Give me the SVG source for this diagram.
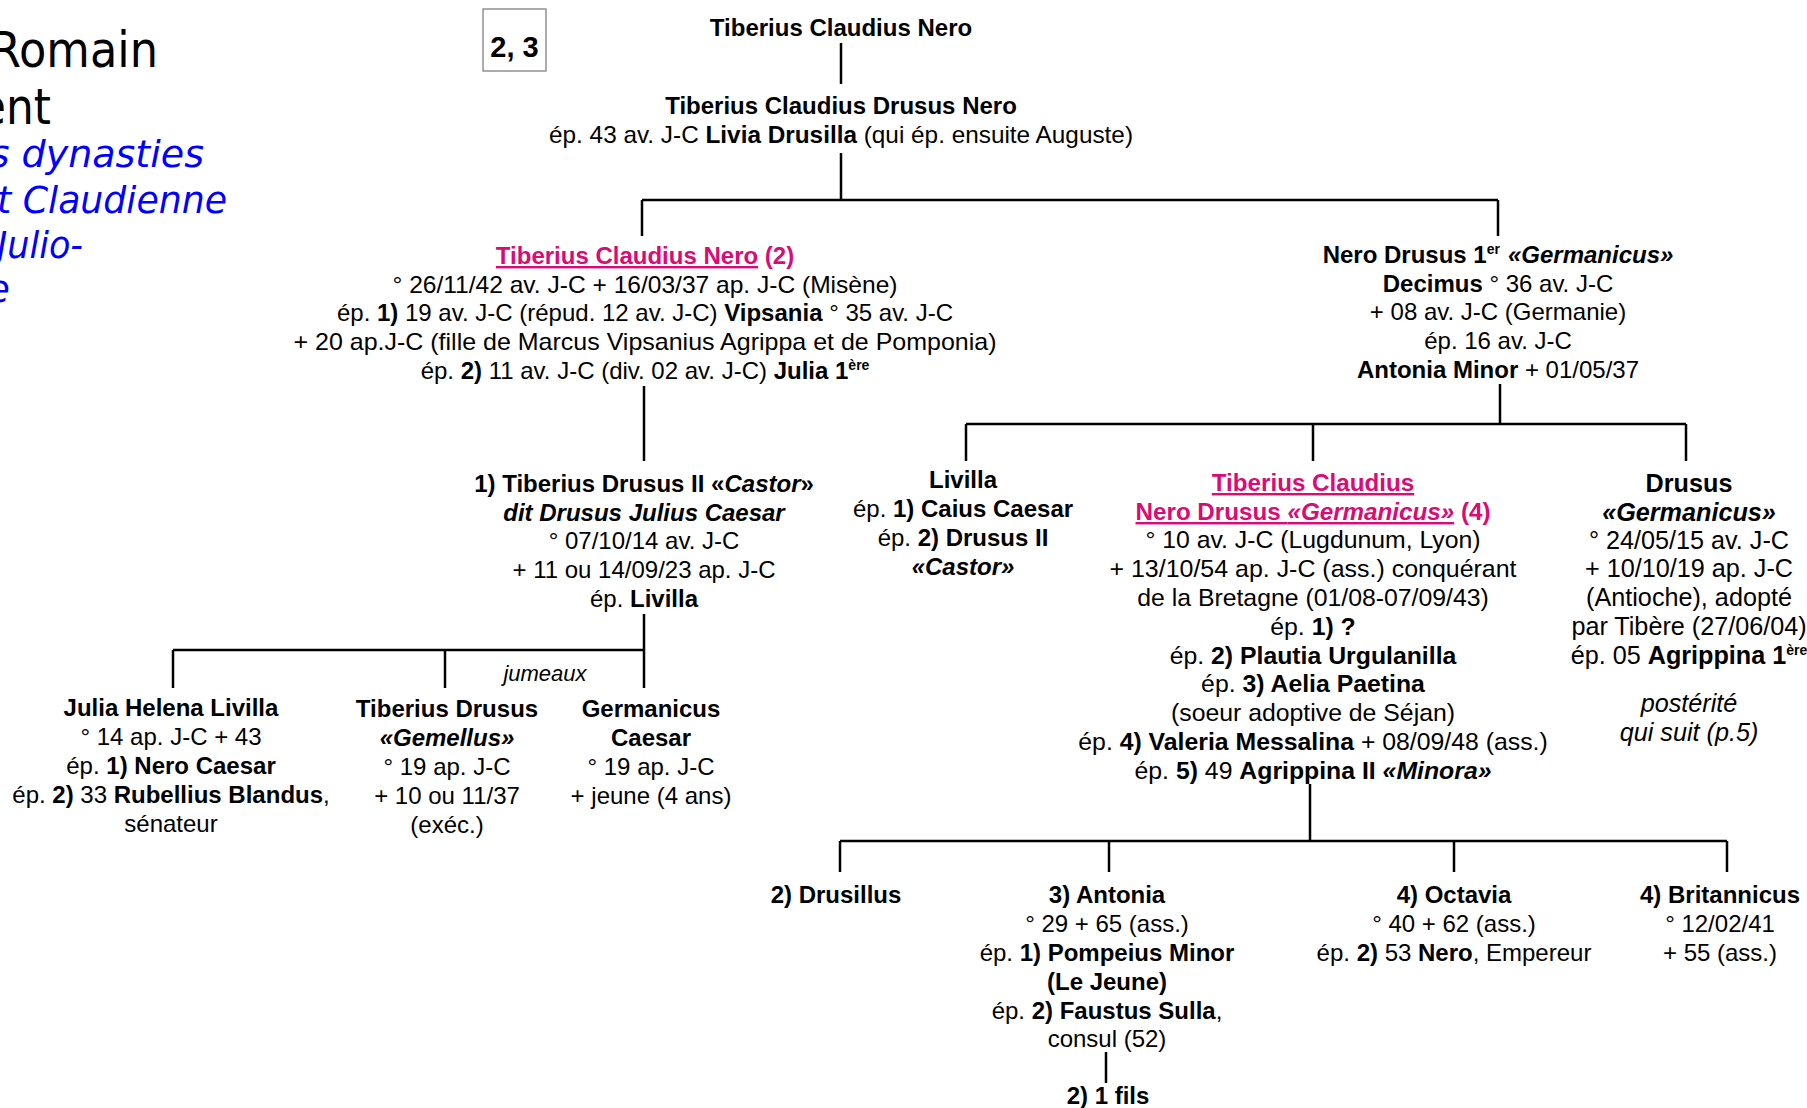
<svg xmlns="http://www.w3.org/2000/svg" width="1807" height="1108" viewBox="0 0 1807 1108">
<style>
text { font-family: "Liberation Sans", Arial, sans-serif; font-size: 24px; fill: #000; }
.c { text-anchor: middle; }
.b { font-weight: bold; }
.i { font-style: italic; }
.p { fill: #DB0A76; }
.u { text-decoration: underline; }
.sup { font-size: 14px; }
.tb { font-family: "DejaVu Sans", Verdana, sans-serif; font-size: 50px; text-anchor: end; }
.tc { font-family: "DejaVu Sans", Verdana, sans-serif; font-size: 38px; font-style: italic; fill: #0000FF; text-anchor: end; }
.conn { stroke: #000; stroke-width: 2.5; fill: none; }
#claudius-4 text { font-size: 24.8px; }
#claudius-4 text.p { font-size: 24.2px; }
#drusus-germanicus text { font-size: 25.2px; }
#claudius-4 .sup, #drusus-germanicus .sup { font-size: 14px; }
</style>
<rect width="1807" height="1108" fill="#fff"/>

<g id="title">
  <text class="tb" x="158" y="67" textLength="168" lengthAdjust="spacingAndGlyphs">Romain</text>
  <text class="tb" x="51" y="124" textLength="72" lengthAdjust="spacingAndGlyphs">ent</text>
  <text class="tc" x="204" y="167">s dynasties</text>
  <text class="tc" x="227" y="213" textLength="230" lengthAdjust="spacingAndGlyphs">t Claudienne</text>
  <text class="tc" x="83" y="258" textLength="86" lengthAdjust="spacingAndGlyphs">Julio-</text>
  <text class="tc" x="10" y="302">e</text>
</g>

<g id="ref-box">
  <rect x="483" y="9" width="63" height="62" fill="none" stroke="#808080" stroke-width="1.3"/>
  <text class="c b" x="514.5" y="57" style="font-size:29px">2, 3</text>
</g>

<g id="connectors">
  <path class="conn" d="M841 43V84"/>
  <path class="conn" d="M841 153V200M642 200H1498M642 200V236M1498 200V236"/>
  <path class="conn" d="M644 386V461"/>
  <path class="conn" d="M644 614V688M173 650H644M173 650V688M445 650V688"/>
  <path class="conn" d="M1500 384V424M966 424H1686M966 424V461M1313 424V461M1686 424V461"/>
  <path class="conn" d="M1310 784V841M840 841H1727M840 841V872M1109 841V872M1454 841V872M1727 841V872"/>
  <path class="conn" d="M1106 1052V1083"/>
</g>

<g id="tiberius-claudius-nero-sr">
  <text class="c b" x="841" y="36">Tiberius Claudius Nero</text>
</g>

<g id="tiberius-claudius-drusus-nero">
  <text class="c b" x="841" y="114">Tiberius Claudius Drusus Nero</text>
  <text class="c" x="841" y="143" textLength="584" lengthAdjust="spacingAndGlyphs">ép. 43 av. J-C <tspan class="b">Livia Drusilla</tspan> (qui ép. ensuite Auguste)</text>
</g>

<g id="tiberius-2">
  <text class="c b p" x="645" y="264"><tspan class="u">Tiberius Claudius Nero</tspan> (2)</text>
  <text class="c" x="645" y="293" textLength="505" lengthAdjust="spacingAndGlyphs">° 26/11/42 av. J-C + 16/03/37 ap. J-C (Misène)</text>
  <text class="c" x="645" y="321">ép. <tspan class="b">1)</tspan> 19 av. J-C (répud. 12 av. J-C) <tspan class="b">Vipsania</tspan> ° 35 av. J-C</text>
  <text class="c" x="645" y="350" textLength="703" lengthAdjust="spacingAndGlyphs">+ 20 ap.J-C (fille de Marcus Vipsanius Agrippa et de Pomponia)</text>
  <text class="c" x="645" y="379">ép. <tspan class="b">2)</tspan> 11 av. J-C (div. 02 av. J-C) <tspan class="b">Julia 1<tspan class="sup" dy="-9">ère</tspan></tspan></text>
</g>

<g id="nero-drusus-1">
  <text class="c b" x="1498" y="263">Nero Drusus 1<tspan class="sup" dy="-9">er</tspan><tspan class="i" dx="8" dy="9">«Germanicus»</tspan></text>
  <text class="c" x="1498" y="292"><tspan class="b">Decimus</tspan> ° 36 av. J-C</text>
  <text class="c" x="1498" y="320">+ 08 av. J-C (Germanie)</text>
  <text class="c" x="1498" y="349">ép. 16 av. J-C</text>
  <text class="c" x="1498" y="378"><tspan class="b">Antonia Minor</tspan> + 01/05/37</text>
</g>

<g id="drusus-castor">
  <text class="c b" x="644" y="492">1) Tiberius Drusus II «<tspan class="i">Castor</tspan>»</text>
  <text class="c b i" x="644" y="521">dit Drusus Julius Caesar</text>
  <text class="c" x="644" y="549">° 07/10/14 av. J-C</text>
  <text class="c" x="644" y="578">+ 11 ou 14/09/23 ap. J-C</text>
  <text class="c" x="644" y="607">ép. <tspan class="b">Livilla</tspan></text>
</g>

<g id="jumeaux-label">
  <text class="c i" x="545" y="681" style="font-size:22px">jumeaux</text>
</g>

<g id="julia-helena-livilla">
  <text class="c b" x="171" y="716">Julia Helena Livilla</text>
  <text class="c" x="171" y="745">° 14 ap. J-C + 43</text>
  <text class="c" x="171" y="774">ép. <tspan class="b">1) Nero Caesar</tspan></text>
  <text class="c" x="171" y="803">ép. <tspan class="b">2)</tspan> 33 <tspan class="b">Rubellius Blandus</tspan>,</text>
  <text class="c" x="171" y="832">sénateur</text>
</g>

<g id="tiberius-gemellus">
  <text class="c b" x="447" y="717">Tiberius Drusus</text>
  <text class="c b i" x="447" y="746">«Gemellus»</text>
  <text class="c" x="447" y="775">° 19 ap. J-C</text>
  <text class="c" x="447" y="804">+ 10 ou 11/37</text>
  <text class="c" x="447" y="833">(exéc.)</text>
</g>

<g id="germanicus-caesar">
  <text class="c b" x="651" y="717">Germanicus</text>
  <text class="c b" x="651" y="746">Caesar</text>
  <text class="c" x="651" y="775">° 19 ap. J-C</text>
  <text class="c" x="651" y="804">+ jeune (4 ans)</text>
</g>

<g id="livilla">
  <text class="c b" x="963" y="488">Livilla</text>
  <text class="c" x="963" y="517">ép. <tspan class="b">1) Caius Caesar</tspan></text>
  <text class="c" x="963" y="546">ép. <tspan class="b">2) Drusus II</tspan></text>
  <text class="c b i" x="963" y="575">«Castor»</text>
</g>

<g id="claudius-4">
  <text class="c b p" x="1313" y="491"><tspan class="u">Tiberius Claudius</tspan></text>
  <text class="c b p" x="1313" y="520"><tspan class="u">Nero Drusus <tspan class="i">«Germanicus»</tspan></tspan> (4)</text>
  <text class="c" x="1313" y="548">° 10 av. J-C (Lugdunum, Lyon)</text>
  <text class="c" x="1313" y="577" textLength="407" lengthAdjust="spacingAndGlyphs">+ 13/10/54 ap. J-C (ass.) conquérant</text>
  <text class="c" x="1313" y="606">de la Bretagne (01/08-07/09/43)</text>
  <text class="c" x="1313" y="635">ép. <tspan class="b">1) ?</tspan></text>
  <text class="c" x="1313" y="664">ép. <tspan class="b">2) Plautia Urgulanilla</tspan></text>
  <text class="c" x="1313" y="692">ép. <tspan class="b">3) Aelia Paetina</tspan></text>
  <text class="c" x="1313" y="721">(soeur adoptive de Séjan)</text>
  <text class="c" x="1313" y="750">ép. <tspan class="b">4) Valeria Messalina</tspan> + 08/09/48 (ass.)</text>
  <text class="c" x="1313" y="779">ép. <tspan class="b">5)</tspan> 49 <tspan class="b">Agrippina II <tspan class="i">«Minora»</tspan></tspan></text>
</g>

<g id="drusus-germanicus">
  <text class="c b" x="1689" y="492">Drusus</text>
  <text class="c b i" x="1689" y="521">«Germanicus»</text>
  <text class="c" x="1689" y="549">° 24/05/15 av. J-C</text>
  <text class="c" x="1689" y="577">+ 10/10/19 ap. J-C</text>
  <text class="c" x="1689" y="606">(Antioche), adopté</text>
  <text class="c" x="1689" y="635">par Tibère (27/06/04)</text>
  <text class="c" x="1689" y="664">ép. 05 <tspan class="b">Agrippina 1<tspan class="sup" dy="-9">ère</tspan></tspan></text>
  <text class="c i" x="1689" y="712">postérité</text>
  <text class="c i" x="1689" y="741">qui suit (p.5)</text>
</g>

<g id="drusillus">
  <text class="c b" x="836" y="903">2) Drusillus</text>
</g>

<g id="antonia">
  <text class="c b" x="1107" y="903">3) Antonia</text>
  <text class="c" x="1107" y="932">° 29 + 65 (ass.)</text>
  <text class="c" x="1107" y="961">ép. <tspan class="b">1) Pompeius Minor</tspan></text>
  <text class="c b" x="1107" y="990">(Le Jeune)</text>
  <text class="c" x="1107" y="1019">ép. <tspan class="b">2) Faustus Sulla</tspan>,</text>
  <text class="c" x="1107" y="1047">consul  (52)</text>
</g>

<g id="un-fils">
  <text class="c b" x="1108" y="1104">2) 1 fils</text>
</g>

<g id="octavia">
  <text class="c b" x="1454" y="903">4) Octavia</text>
  <text class="c" x="1454" y="932">° 40 + 62 (ass.)</text>
  <text class="c" x="1454" y="961">ép. <tspan class="b">2)</tspan> 53 <tspan class="b">Nero</tspan>, Empereur</text>
</g>

<g id="britannicus">
  <text class="c b" x="1720" y="903">4) Britannicus</text>
  <text class="c" x="1720" y="932">° 12/02/41</text>
  <text class="c" x="1720" y="961">+ 55 (ass.)</text>
</g>
</svg>
